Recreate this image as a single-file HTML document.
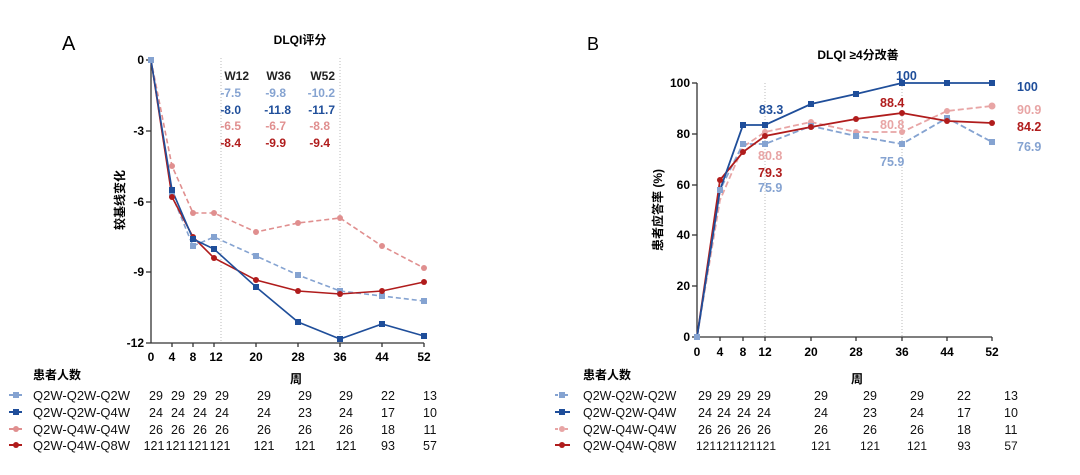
<!DOCTYPE html><html><head><meta charset="utf-8"><style>body{margin:0;background:#fff}svg{display:block}text{font-family:"Liberation Sans","Noto Sans CJK SC",sans-serif}</style></head><body>
<svg width="1080" height="475" viewBox="0 0 1080 475">
<g id="A">
<text x="62" y="50" font-size="20">A</text>
<text x="300" y="44" font-size="12" font-weight="bold" text-anchor="middle">DLQI评分</text>
<line x1="221" y1="58" x2="221" y2="343" stroke="#bbb" stroke-dasharray="1,2"/>
<line x1="340" y1="58" x2="340" y2="343" stroke="#bbb" stroke-dasharray="1,2"/>
<g stroke="#333" stroke-width="1.3"><line x1="151" y1="60" x2="151" y2="343"/><line x1="151" y1="343" x2="424" y2="343"/>
<line x1="146" y1="60" x2="151" y2="60"/><line x1="146" y1="131" x2="151" y2="131"/><line x1="146" y1="202" x2="151" y2="202"/><line x1="146" y1="272" x2="151" y2="272"/><line x1="146" y1="343" x2="151" y2="343"/>
<line x1="172" y1="343" x2="172" y2="347"/><line x1="193" y1="343" x2="193" y2="347"/><line x1="214" y1="343" x2="214" y2="347"/><line x1="256" y1="343" x2="256" y2="347"/><line x1="298" y1="343" x2="298" y2="347"/><line x1="340" y1="343" x2="340" y2="347"/><line x1="382" y1="343" x2="382" y2="347"/><line x1="424" y1="343" x2="424" y2="347"/></g>
<g font-size="12" font-weight="bold" text-anchor="end"><text x="144" y="64">0</text><text x="144" y="135">-3</text><text x="144" y="206">-6</text><text x="144" y="276">-9</text><text x="144" y="347">-12</text></g>
<g font-size="12" font-weight="bold" text-anchor="middle"><text x="151" y="361">0</text><text x="172" y="361">4</text><text x="193" y="361">8</text><text x="216" y="361">12</text><text x="256" y="361">20</text><text x="298" y="361">28</text><text x="340" y="361">36</text><text x="382" y="361">44</text><text x="424" y="361">52</text></g>
<text transform="translate(124,200) rotate(-90)" font-size="12" font-weight="bold" text-anchor="middle">较基线变化</text>
<g font-size="12" font-weight="bold" text-anchor="end">
<text x="249" y="80" fill="#222">W12</text><text x="291" y="80" fill="#222">W36</text><text x="335" y="80" fill="#222">W52</text>
<g fill="#85a3d1"><text x="241" y="97">-7.5</text><text x="286" y="97">-9.8</text><text x="335" y="97">-10.2</text></g>
<g fill="#1f4e9a"><text x="241" y="114">-8.0</text><text x="291" y="114">-11.8</text><text x="335" y="114">-11.7</text></g>
<g fill="#e08f8f"><text x="241" y="130">-6.5</text><text x="286" y="130">-6.7</text><text x="330" y="130">-8.8</text></g>
<g fill="#b01c1c"><text x="241" y="147">-8.4</text><text x="286" y="147">-9.9</text><text x="330" y="147">-9.4</text></g></g>
<polyline fill="none" stroke="#e08f8f" stroke-width="1.6" stroke-dasharray="5,3" points="151,60 172,166 193,213 214,213 256,232 298,223 340,218 382,246 424,268"/>
<polyline fill="none" stroke="#85a3d1" stroke-width="1.6" stroke-dasharray="5,3" points="151,60 172,195 193,246 214,237 256,256 298,275 340,291 382,296 424,301"/>
<polyline fill="none" stroke="#b01c1c" stroke-width="1.6" points="151,60 172,197 193,237 214,258 256,280 298,291 340,294 382,291 424,282"/>
<polyline fill="none" stroke="#1f4e9a" stroke-width="1.6" points="151,60 172,190 193,239 214,249 256,287 298,322 340,339 382,324 424,336"/>
<g fill="#e08f8f"><circle cx="172" cy="166" r="3"/><circle cx="193" cy="213" r="3"/><circle cx="214" cy="213" r="3"/><circle cx="256" cy="232" r="3"/><circle cx="298" cy="223" r="3"/><circle cx="340" cy="218" r="3"/><circle cx="382" cy="246" r="3"/><circle cx="424" cy="268" r="3"/></g>
<g fill="#85a3d1"><rect x="148" y="57" width="6" height="6"/><rect x="169" y="192" width="6" height="6"/><rect x="190" y="243" width="6" height="6"/><rect x="211" y="234" width="6" height="6"/><rect x="253" y="253" width="6" height="6"/><rect x="295" y="272" width="6" height="6"/><rect x="337" y="288" width="6" height="6"/><rect x="379" y="293" width="6" height="6"/><rect x="421" y="298" width="6" height="6"/></g>
<g fill="#b01c1c"><circle cx="172" cy="197" r="3"/><circle cx="193" cy="237" r="3"/><circle cx="214" cy="258" r="3"/><circle cx="256" cy="280" r="3"/><circle cx="298" cy="291" r="3"/><circle cx="340" cy="294" r="3"/><circle cx="382" cy="291" r="3"/><circle cx="424" cy="282" r="3"/></g>
<g fill="#1f4e9a"><rect x="169" y="187" width="6" height="6"/><rect x="190" y="236" width="6" height="6"/><rect x="211" y="246" width="6" height="6"/><rect x="253" y="284" width="6" height="6"/><rect x="295" y="319" width="6" height="6"/><rect x="337" y="336" width="6" height="6"/><rect x="379" y="321" width="6" height="6"/><rect x="421" y="333" width="6" height="6"/></g>
<text x="33" y="379" font-size="12" font-weight="bold">患者人数</text>
<text x="290" y="383" font-size="12" font-weight="bold">周</text>
<g font-size="13" fill="#111">
<line x1="9" y1="395" x2="22" y2="395" stroke="#85a3d1" stroke-width="2"/><rect x="13" y="392" width="6" height="6" fill="#85a3d1"/>
<line x1="9" y1="412" x2="22" y2="412" stroke="#1f4e9a" stroke-width="2"/><rect x="13" y="409" width="6" height="6" fill="#1f4e9a"/>
<line x1="9" y1="429" x2="22" y2="429" stroke="#e08f8f" stroke-width="2"/><circle cx="16" cy="429" r="3" fill="#e08f8f"/>
<line x1="9" y1="445" x2="22" y2="445" stroke="#b01c1c" stroke-width="2"/><circle cx="16" cy="445" r="3" fill="#b01c1c"/>
<text x="33" y="400">Q2W-Q2W-Q2W</text><text x="33" y="417">Q2W-Q2W-Q4W</text><text x="33" y="434">Q2W-Q4W-Q4W</text><text x="33" y="450">Q2W-Q4W-Q8W</text>
<g text-anchor="middle" font-size="12.5">
<text y="400"><tspan x="156">29</tspan><tspan x="178">29</tspan><tspan x="200">29</tspan><tspan x="222">29</tspan><tspan x="264">29</tspan><tspan x="305">29</tspan><tspan x="346">29</tspan><tspan x="388">22</tspan><tspan x="430">13</tspan></text>
<text y="417"><tspan x="156">24</tspan><tspan x="178">24</tspan><tspan x="200">24</tspan><tspan x="222">24</tspan><tspan x="264">24</tspan><tspan x="305">23</tspan><tspan x="346">24</tspan><tspan x="388">17</tspan><tspan x="430">10</tspan></text>
<text y="434"><tspan x="156">26</tspan><tspan x="178">26</tspan><tspan x="200">26</tspan><tspan x="222">26</tspan><tspan x="264">26</tspan><tspan x="305">26</tspan><tspan x="346">26</tspan><tspan x="388">18</tspan><tspan x="430">11</tspan></text>
<text y="450"><tspan x="154">121</tspan><tspan x="176">121</tspan><tspan x="198">121</tspan><tspan x="220">121</tspan><tspan x="264">121</tspan><tspan x="305">121</tspan><tspan x="346">121</tspan><tspan x="388">93</tspan><tspan x="430">57</tspan></text>
</g></g>
</g>
<g id="B">
<text x="587" y="50" font-size="18">B</text>
<text x="858" y="59" font-size="12" font-weight="bold" text-anchor="middle">DLQI ≥4分改善</text>
<line x1="765" y1="83" x2="765" y2="337" stroke="#bbb" stroke-dasharray="1,2"/>
<line x1="902" y1="83" x2="902" y2="337" stroke="#bbb" stroke-dasharray="1,2"/>
<g stroke="#333" stroke-width="1.3"><line x1="697" y1="83" x2="697" y2="337"/><line x1="697" y1="337" x2="992" y2="337"/>
<line x1="692" y1="83" x2="697" y2="83"/><line x1="692" y1="134" x2="697" y2="134"/><line x1="692" y1="185" x2="697" y2="185"/><line x1="692" y1="235" x2="697" y2="235"/><line x1="692" y1="286" x2="697" y2="286"/><line x1="692" y1="337" x2="697" y2="337"/>
<line x1="720" y1="337" x2="720" y2="341"/><line x1="743" y1="337" x2="743" y2="341"/><line x1="765" y1="337" x2="765" y2="341"/><line x1="811" y1="337" x2="811" y2="341"/><line x1="856" y1="337" x2="856" y2="341"/><line x1="902" y1="337" x2="902" y2="341"/><line x1="947" y1="337" x2="947" y2="341"/><line x1="992" y1="337" x2="992" y2="341"/></g>
<g font-size="12" font-weight="bold" text-anchor="end"><text x="690" y="87">100</text><text x="690" y="138">80</text><text x="690" y="189">60</text><text x="690" y="239">40</text><text x="690" y="290">20</text><text x="690" y="341">0</text></g>
<g font-size="12" font-weight="bold" text-anchor="middle"><text x="697" y="356">0</text><text x="720" y="356">4</text><text x="743" y="356">8</text><text x="765" y="356">12</text><text x="811" y="356">20</text><text x="856" y="356">28</text><text x="902" y="356">36</text><text x="947" y="356">44</text><text x="992" y="356">52</text></g>
<text transform="translate(662,210) rotate(-90)" font-size="12" font-weight="bold" text-anchor="middle">患者应答率 (%)</text>
<polyline fill="none" stroke="#e8a5a5" stroke-width="1.8" stroke-dasharray="6,3" points="697,337 720,200 743,147 765,132 811,122 856,132 902,132 947,111 992,106"/>
<polyline fill="none" stroke="#85a3d1" stroke-width="1.8" stroke-dasharray="6,3" points="697,337 720,190 743,144 765,144 811,126 856,136 902,144 947,118 992,142"/>
<polyline fill="none" stroke="#b01c1c" stroke-width="1.8" points="697,337 720,180 743,152 765,136 811,127 856,119 902,113 947,121 992,123"/>
<polyline fill="none" stroke="#1f4e9a" stroke-width="1.8" points="697,337 720,190 743,125 765,125 811,104 856,94 902,83 947,83 992,83"/>
<g fill="#e8a5a5"><circle cx="765" cy="132" r="3"/><circle cx="811" cy="122" r="3"/><circle cx="856" cy="132" r="3"/><circle cx="902" cy="132" r="3"/><circle cx="947" cy="111" r="3"/><circle cx="992" cy="106" r="3.5"/></g>
<g fill="#85a3d1"><rect x="694" y="334" width="6" height="6"/><rect x="717" y="187" width="6" height="6"/><rect x="740" y="141" width="6" height="6"/><rect x="762" y="141" width="6" height="6"/><rect x="808" y="123" width="6" height="6"/><rect x="853" y="133" width="6" height="6"/><rect x="899" y="141" width="6" height="6"/><rect x="944" y="115" width="6" height="6"/><rect x="989" y="139" width="6" height="6"/></g>
<g fill="#b01c1c"><circle cx="720" cy="180" r="3"/><circle cx="743" cy="152" r="3"/><circle cx="765" cy="136" r="3"/><circle cx="811" cy="127" r="3"/><circle cx="856" cy="119" r="3"/><circle cx="902" cy="113" r="3"/><circle cx="947" cy="121" r="3"/><circle cx="992" cy="123" r="3"/></g>
<g fill="#1f4e9a"><rect x="740" y="122" width="6" height="6"/><rect x="762" y="122" width="6" height="6"/><rect x="808" y="101" width="6" height="6"/><rect x="853" y="91" width="6" height="6"/><rect x="899" y="80" width="6" height="6"/><rect x="944" y="80" width="6" height="6"/><rect x="989" y="80" width="6" height="6"/></g>
<g font-size="12.5" font-weight="bold">
<text x="759" y="114" fill="#1f4e9a">83.3</text><text x="896" y="80" fill="#1f4e9a">100</text><text x="1017" y="91" fill="#1f4e9a">100</text>
<text x="880" y="107" fill="#b01c1c">88.4</text><text x="1017" y="114" fill="#e8a5a5">90.9</text><text x="1017" y="131" fill="#b01c1c">84.2</text><text x="1017" y="151" fill="#85a3d1">76.9</text>
<text x="880" y="129" fill="#e8a5a5">80.8</text><text x="880" y="166" fill="#85a3d1">75.9</text>
<text x="758" y="160" fill="#e8a5a5">80.8</text><text x="758" y="177" fill="#b01c1c">79.3</text><text x="758" y="192" fill="#85a3d1">75.9</text></g>
<text x="583" y="379" font-size="12" font-weight="bold">患者人数</text>
<text x="851" y="383" font-size="12" font-weight="bold">周</text>
<g font-size="13" fill="#111">
<line x1="555" y1="395" x2="570" y2="395" stroke="#85a3d1" stroke-width="2" stroke-dasharray="3,2"/><rect x="559" y="392" width="6" height="6" fill="#85a3d1"/>
<line x1="555" y1="412" x2="570" y2="412" stroke="#1f4e9a" stroke-width="2"/><rect x="559" y="409" width="6" height="6" fill="#1f4e9a"/>
<line x1="555" y1="429" x2="570" y2="429" stroke="#e8a5a5" stroke-width="2" stroke-dasharray="3,2"/><circle cx="562" cy="429" r="3" fill="#e8a5a5"/>
<line x1="555" y1="445" x2="570" y2="445" stroke="#b01c1c" stroke-width="2"/><circle cx="562" cy="445" r="3" fill="#b01c1c"/>
<g font-size="12.5"><text x="583" y="400">Q2W-Q2W-Q2W</text><text x="583" y="417">Q2W-Q2W-Q4W</text><text x="583" y="434">Q2W-Q4W-Q4W</text><text x="583" y="450">Q2W-Q4W-Q8W</text></g>
<g text-anchor="middle" font-size="12.5">
<text y="400"><tspan x="705">29</tspan><tspan x="724">29</tspan><tspan x="744">29</tspan><tspan x="764">29</tspan><tspan x="821">29</tspan><tspan x="870">29</tspan><tspan x="917">29</tspan><tspan x="964">22</tspan><tspan x="1011">13</tspan></text>
<text y="417"><tspan x="705">24</tspan><tspan x="724">24</tspan><tspan x="744">24</tspan><tspan x="764">24</tspan><tspan x="821">24</tspan><tspan x="870">23</tspan><tspan x="917">24</tspan><tspan x="964">17</tspan><tspan x="1011">10</tspan></text>
<text y="434"><tspan x="705">26</tspan><tspan x="724">26</tspan><tspan x="744">26</tspan><tspan x="764">26</tspan><tspan x="821">26</tspan><tspan x="870">26</tspan><tspan x="917">26</tspan><tspan x="964">18</tspan><tspan x="1011">11</tspan></text>
<text y="450" font-size="12"><tspan x="706">121</tspan><tspan x="726">121</tspan><tspan x="746">121</tspan><tspan x="766">121</tspan><tspan x="821">121</tspan><tspan x="870">121</tspan><tspan x="917">121</tspan><tspan x="964">93</tspan><tspan x="1011">57</tspan></text>
</g></g>
</g>
</svg></body></html>
